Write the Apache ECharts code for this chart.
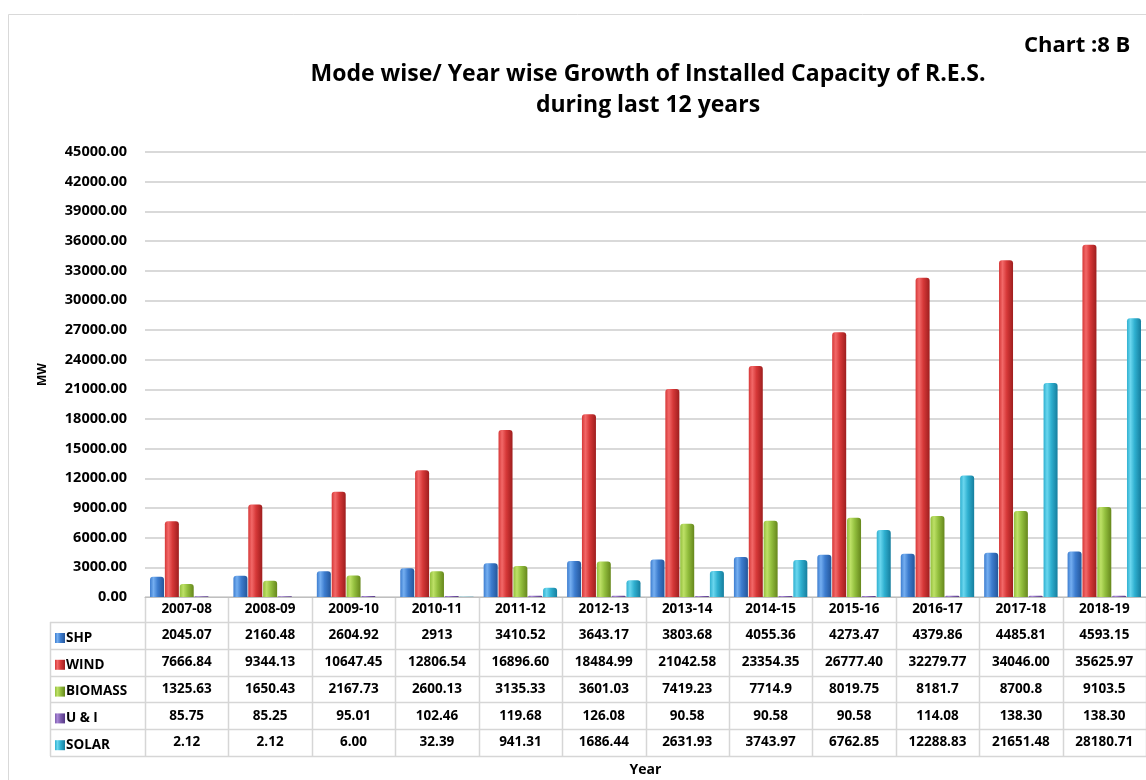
<!DOCTYPE html>
<html><head><meta charset="utf-8">
<script src="https://cdn.jsdelivr.net/npm/echarts@6/dist/echarts.min.js"></script>
<style>html,body{margin:0;padding:0;background:#fff}#c{width:1146px;height:780px}</style>
</head><body><div id="c"></div>
<script>
var categories = ['2007-08','2008-09','2009-10','2010-11','2011-12','2012-13','2013-14','2014-15','2015-16','2016-17','2017-18','2018-19'];
var seriesNames = ['SHP','WIND','BIOMASS','U & I','SOLAR'];
var shp = ['2045.07','2160.48','2604.92','2913','3410.52','3643.17','3803.68','4055.36','4273.47','4379.86','4485.81','4593.15'];
var wind = ['7666.84','9344.13','10647.45','12806.54','16896.60','18484.99','21042.58','23354.35','26777.40','32279.77','34046.00','35625.97'];
var biomass = ['1325.63','1650.43','2167.73','2600.13','3135.33','3601.03','7419.23','7714.9','8019.75','8181.7','8700.8','9103.5'];
var ui = ['85.75','85.25','95.01','102.46','119.68','126.08','90.58','90.58','90.58','114.08','138.30','138.30'];
var solar = ['2.12','2.12','6.00','32.39','941.31','1686.44','2631.93','3743.97','6762.85','12288.83','21651.48','28180.71'];
var yTicks = {min:0, max:45000, interval:3000};

var rows = [shp, wind, biomass, ui, solar];
var pal = [
  {base:'#3d7dcf', light:'#74aef0', dark:'#24569a'},
  {base:'#d63838', light:'#f26868', dark:'#9e1e1e'},
  {base:'#93bf3e', light:'#bde066', dark:'#66871c'},
  {base:'#7e5eae', light:'#a886d6', dark:'#553786'},
  {base:'#2fb0d0', light:'#6ad6ee', dark:'#167e9e'}
];
var FONT = 'Open Sans';
var G = {left:145, right:0, top:152, bottom:183};
var W = 1146, H = 780;
var gridW = W - G.left - G.right;
var cw = gridW / categories.length;
var axisY = H - G.bottom;
var headerH = 25, rowH = 26.8;

function grad(p){
  return new echarts.graphic.LinearGradient(0,0,1,0,[
    {offset:0,color:p.base},{offset:0.25,color:p.light},{offset:0.55,color:p.base},{offset:1,color:p.dark}]);
}

var xAxes = [{
  type:'category', data:categories, gridIndex:0, position:'bottom',
  axisLine:{show:true, lineStyle:{color:'#bfbfbf', width:1}},
  axisTick:{show:false},
  axisLabel:{interval:0, margin:headerH/2, verticalAlign:'middle', color:'#000', fontFamily:FONT, fontWeight:'bold', fontSize:13.5}
}];
rows.forEach(function(r, i){
  xAxes.push({
    type:'category', data:categories, gridIndex:0, position:'bottom',
    offset: headerH + rowH*i + rowH/2,
    axisLine:{show:false}, axisTick:{show:false}, splitLine:{show:false},
    axisLabel:{interval:0, margin:0, verticalAlign:'middle', color:'#000', fontFamily:FONT, fontWeight:'bold', fontSize:13.5,
      formatter:(function(arr){return function(v, idx){return arr[idx];};})(r)}
  });
});

var series = rows.map(function(r, i){
  return {
    name: seriesNames[i], type:'bar', xAxisIndex:0,
    data: r.map(parseFloat),
    barGap:'6%', barCategoryGap:'12%',
    itemStyle:{color:grad(pal[i]), borderRadius:[3,3,0,0]}
  };
});

// table lines
var lines = [];
var lc = '#d6d6d6';
var tableBottom = axisY + headerH + rowH*rows.length;
for (var k=0;k<=categories.length;k++){
  var x = Math.round(G.left + k*cw) + 0.5;
  lines.push({type:'line', shape:{x1:x,y1:axisY,x2:x,y2:tableBottom}, style:{stroke:lc,lineWidth:1.5}});
}
lines.push({type:'line', shape:{x1:50.5,y1:axisY+headerH,x2:50.5,y2:tableBottom}, style:{stroke:lc,lineWidth:1.5}});
for (var j=0;j<=rows.length;j++){
  var y = Math.round(axisY + headerH + j*rowH) + 0.5;
  lines.push({type:'line', shape:{x1:50,y1:y,x2:W,y2:y}, style:{stroke:lc,lineWidth:1.5}});
}

var chart = echarts.init(document.getElementById('c'), null, {renderer:'canvas'});
chart.setOption({
  animation:false,
  backgroundColor:'#fff',
  title:[
    {text:'Mode wise/ Year wise Growth of Installed Capacity of R.E.S.\nduring last 12 years', left:643, textAlign:'center', top:54,
     textStyle:{fontFamily:FONT, fontWeight:'bold', fontSize:23, color:'#000', lineHeight:31}},
    {text:'Chart :8 B', left:1019, top:30, textStyle:{fontFamily:FONT, fontWeight:'bold', fontSize:22, color:'#000'}}
  ],
  legend:{
    orient:'vertical', left:50, top:axisY+headerH+3, itemWidth:10, itemHeight:10, itemGap:rowH-16,
    data:seriesNames, icon:'rect', selectedMode:false,
    textStyle:{fontFamily:FONT, fontWeight:'bold', fontSize:13.5, color:'#000', lineHeight:16, padding:[0,0,0,-4]}
  },
  grid:{left:G.left, right:G.right, top:G.top, bottom:G.bottom, containLabel:false},
  xAxis: xAxes,
  yAxis:{
    type:'value', min:yTicks.min, max:yTicks.max, interval:yTicks.interval,
    name:'MW', nameLocation:'middle', nameGap:96, nameRotate:90,
    nameTextStyle:{fontFamily:FONT, fontWeight:'bold', fontSize:12, color:'#000'},
    axisLine:{show:false}, axisTick:{show:false},
    axisLabel:{margin:18, color:'#000', fontFamily:FONT, fontWeight:'bold', fontSize:14.5,
      formatter:function(v){return v.toFixed(2);}},
    splitLine:{lineStyle:{color:'#d9d9d9', width:2}}
  },
  series: series,
  graphic:[
    {type:'rect', shape:{x:8.5,y:14.5,width:W+10,height:H+10}, style:{fill:'none', stroke:'#d9d9d9', lineWidth:1}, silent:true}
  ].concat(lines).concat([
    {type:'text', x:G.left + gridW/2, y:tableBottom + 14, style:{text:'Year', fontFamily:FONT, fontWeight:'bold', fontSize:14, fill:'#000', align:'center', verticalAlign:'middle'}}
  ])
});
</script>
</body></html>
